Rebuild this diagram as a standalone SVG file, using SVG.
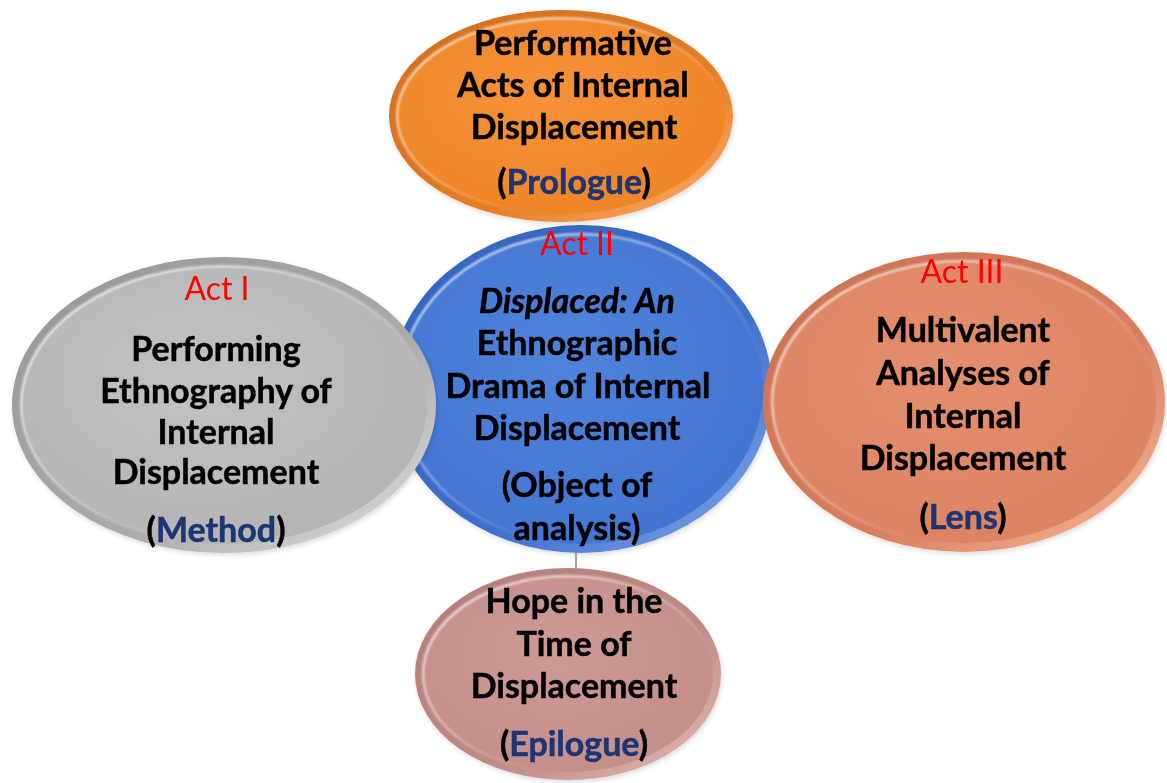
<svg xmlns="http://www.w3.org/2000/svg" width="1167" height="783" viewBox="0 0 1167 783">
  <style>
    .t { font-family: Lato, "Liberation Sans", sans-serif; font-weight: bold; font-size: 34px; fill: #000; stroke: #000; stroke-width: 0.5; text-anchor: middle; }
    .act { font-family: Lato, "Liberation Sans", sans-serif; font-weight: normal; font-size: 32px; fill: #FF0000; text-anchor: middle; }
    .role { fill: #1C3473; stroke: #1C3473; }
    .conn { stroke: #A6A6A6; stroke-width: 2; fill: none; }
    .hl { fill: none; stroke: url(#hlGrad); stroke-width: 2.5; filter: url(#soft); }
  </style>
  <defs>
    <filter id="soft" x="-5%" y="-5%" width="110%" height="110%">
      <feGaussianBlur stdDeviation="0.8"/>
    </filter>
    <filter id="shadow" x="-10%" y="-10%" width="120%" height="125%">
      <feGaussianBlur in="SourceAlpha" stdDeviation="2.5"/>
      <feOffset dx="1" dy="2" result="b"/>
      <feComponentTransfer><feFuncA type="linear" slope="0.15"/></feComponentTransfer>
      <feMerge><feMergeNode/><feMergeNode in="SourceGraphic"/></feMerge>
    </filter>
    <!-- bevel highlight: bright on the upper left, fading to the lower right -->
    <linearGradient id="hlGrad" x1="0" y1="0" x2="1" y2="1">
      <stop offset="0" stop-color="#fff" stop-opacity="0.9"/>
      <stop offset="0.45" stop-color="#fff" stop-opacity="0.35"/>
      <stop offset="0.7" stop-color="#fff" stop-opacity="0"/>
    </linearGradient>
    <!-- rim shading per colour -->
    <linearGradient id="rimOrange" x1="0" y1="0" x2="1" y2="1">
      <stop offset="0" stop-color="#D06E20"/><stop offset="0.6" stop-color="#E47C22"/><stop offset="1" stop-color="#FFB070"/>
    </linearGradient>
    <radialGradient id="fillOrange" cx="0.45" cy="0.4" r="0.65">
      <stop offset="0" stop-color="#F7923A"/><stop offset="1" stop-color="#EE8527"/>
    </radialGradient>
    <linearGradient id="rimBlue" x1="0" y1="0" x2="1" y2="1">
      <stop offset="0" stop-color="#3463BC"/><stop offset="0.6" stop-color="#3E6FCB"/><stop offset="1" stop-color="#86AAEC"/>
    </linearGradient>
    <radialGradient id="fillBlue" cx="0.45" cy="0.4" r="0.65">
      <stop offset="0" stop-color="#5083DB"/><stop offset="1" stop-color="#4274D2"/>
    </radialGradient>
    <linearGradient id="rimGray" x1="0" y1="0" x2="1" y2="1">
      <stop offset="0" stop-color="#969696"/><stop offset="0.6" stop-color="#AAAAAA"/><stop offset="1" stop-color="#E2E2E2"/>
    </linearGradient>
    <radialGradient id="fillGray" cx="0.45" cy="0.4" r="0.65">
      <stop offset="0" stop-color="#C2C2C2"/><stop offset="1" stop-color="#B4B4B4"/>
    </radialGradient>
    <linearGradient id="rimSalmon" x1="0" y1="0" x2="1" y2="1">
      <stop offset="0" stop-color="#C97252"/><stop offset="0.6" stop-color="#D87E5E"/><stop offset="1" stop-color="#F8BC9E"/>
    </linearGradient>
    <radialGradient id="fillSalmon" cx="0.45" cy="0.4" r="0.65">
      <stop offset="0" stop-color="#E58E6D"/><stop offset="1" stop-color="#DC8462"/>
    </radialGradient>
    <linearGradient id="rimPink" x1="0" y1="0" x2="1" y2="1">
      <stop offset="0" stop-color="#B27D78"/><stop offset="0.6" stop-color="#C08A85"/><stop offset="1" stop-color="#E4BDB8"/>
    </linearGradient>
    <radialGradient id="fillPink" cx="0.45" cy="0.4" r="0.65">
      <stop offset="0" stop-color="#CD9A95"/><stop offset="1" stop-color="#C48E89"/>
    </radialGradient>
  </defs>

  <rect width="1167" height="783" fill="#FFFFFF"/>

  <!-- connector between the object of analysis and the epilogue -->
  <g id="connectors">
    <line class="conn" x1="576" y1="552" x2="576" y2="570"/>
  </g>

  <!-- Act II: centre -->
  <g id="node-act2" filter="url(#shadow)">
    <ellipse cx="581" cy="389" rx="191" ry="164" fill="url(#rimBlue)"/>
    <ellipse cx="581" cy="389" rx="182" ry="155" fill="url(#fillBlue)"/>
    <ellipse class="hl" cx="581" cy="389" rx="182" ry="155"/>
    <text class="act" x="577" y="255">Act II</text>
    <text class="t" x="577" y="313" font-style="italic">Displaced: An</text>
    <text class="t" x="577" y="355">Ethnographic</text>
    <text class="t" x="578" y="398">Drama of Internal</text>
    <text class="t" x="577" y="440">Displacement</text>
    <text class="t" x="577" y="497">(Object of</text>
    <text class="t" x="577" y="540">analysis)</text>
  </g>

  <!-- Prologue: top -->
  <g id="node-prologue" filter="url(#shadow)">
    <ellipse cx="561" cy="116" rx="172" ry="106" fill="url(#rimOrange)"/>
    <ellipse cx="561" cy="116" rx="164" ry="98" fill="url(#fillOrange)"/>
    <ellipse class="hl" cx="561" cy="116" rx="164" ry="98"/>
    <text class="t" x="573" y="55">Performative</text>
    <text class="t" x="573" y="97">Acts of Internal</text>
    <text class="t" x="574" y="139">Displacement</text>
    <text class="t" x="574" y="194">(<tspan class="role">Prologue</tspan>)</text>
  </g>

  <!-- Act I: left -->
  <g id="node-act1" filter="url(#shadow)">
    <ellipse cx="224" cy="405" rx="212" ry="148" fill="url(#rimGray)"/>
    <ellipse cx="224" cy="405" rx="203" ry="139" fill="url(#fillGray)"/>
    <ellipse class="hl" cx="224" cy="405" rx="203" ry="139"/>
    <text class="act" x="217" y="300">Act I</text>
    <text class="t" x="216" y="361">Performing</text>
    <text class="t" x="216" y="403">Ethnography of</text>
    <text class="t" x="216" y="444">Internal</text>
    <text class="t" x="216" y="484">Displacement</text>
    <text class="t" x="216" y="542">(<tspan class="role">Method</tspan>)</text>
  </g>

  <!-- Act III: right -->
  <g id="node-act3" filter="url(#shadow)">
    <ellipse cx="964" cy="402" rx="201" ry="150" fill="url(#rimSalmon)"/>
    <ellipse cx="964" cy="402" rx="192" ry="141" fill="url(#fillSalmon)"/>
    <ellipse class="hl" cx="964" cy="402" rx="192" ry="141"/>
    <text class="act" x="962" y="283">Act III</text>
    <text class="t" x="963" y="342">Multivalent</text>
    <text class="t" x="963" y="385">Analyses of</text>
    <text class="t" x="963" y="428">Internal</text>
    <text class="t" x="963" y="470">Displacement</text>
    <text class="t" x="963" y="529">(<tspan class="role">Lens</tspan>)</text>
  </g>

  <!-- Epilogue: bottom -->
  <g id="node-epilogue" filter="url(#shadow)">
    <ellipse cx="568" cy="674" rx="153" ry="106" fill="url(#rimPink)"/>
    <ellipse cx="568" cy="674" rx="145" ry="98" fill="url(#fillPink)"/>
    <ellipse class="hl" cx="568" cy="674" rx="145" ry="98"/>
    <text class="t" x="574" y="613">Hope in the</text>
    <text class="t" x="574" y="656">Time of</text>
    <text class="t" x="574" y="698">Displacement</text>
    <text class="t" x="574" y="756">(<tspan class="role">Epilogue</tspan>)</text>
  </g>
</svg>
